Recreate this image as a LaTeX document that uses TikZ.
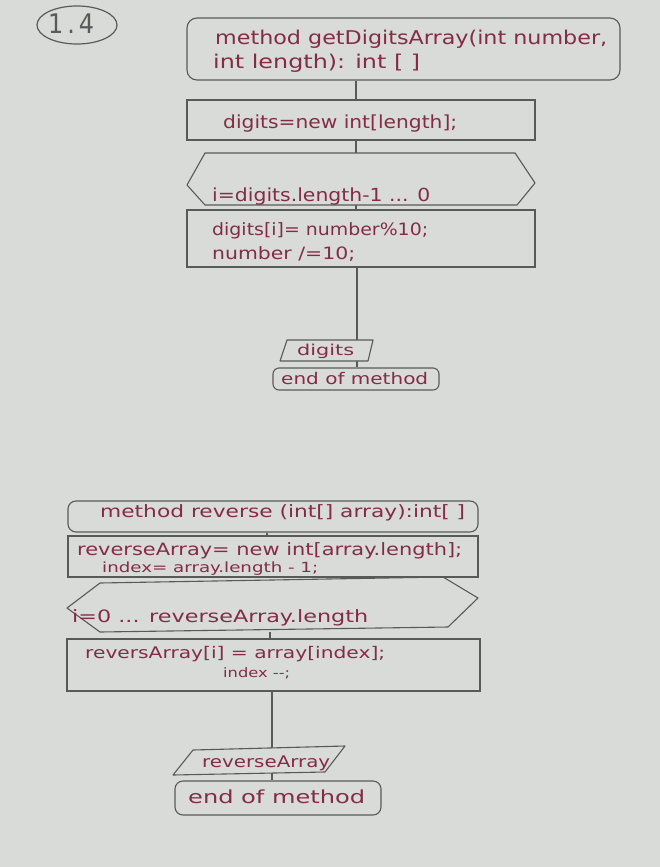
\documentclass[tikz,border=0pt]{standalone}
\usepackage{fontspec}
\setmainfont{DejaVu Sans}
\usepackage{graphicx}
\usetikzlibrary{shapes.geometric}
\definecolor{bg}{RGB}{216,219,215}
\definecolor{ln}{RGB}{88,90,90}
\definecolor{tx}{RGB}{132,44,70}
\definecolor{pen}{RGB}{88,90,92}
% width, font size, text: scale horizontally only
\newcommand\fitw[3]{\resizebox{#1pt}{\height}{\fontsize{#2}{#2}\selectfont #3}}
\tikzset{
  box/.style={draw=ln, line width=1.1pt, rectangle, inner sep=0pt},
  rbox/.style={box, rounded corners=10pt},
  frame/.style={rectangle, inner sep=0pt},
  shp/.style={draw=ln, line width=1.1pt, line join=round},
  conn/.style={draw=ln, line width=1.1pt},
  lbl/.style={text=tx, inner sep=0pt, anchor=base west},
}
\begin{document}
\begin{tikzpicture}[x=1pt, y=-1pt]
\useasboundingbox (0,0) rectangle (660,867);
\fill[bg] (0,0) rectangle (660,867);

% ---- label 1.4
\node[ellipse, draw=pen, line width=1.2pt, minimum width=80pt, minimum height=38pt, inner sep=0pt] (circ) at (77,25) {};
\node[lbl, text=pen] (t17) at (48,34) {\fitw{46}{27}{1\,.\,4}};

% ---- first method
\coordinate (ax1) at (356,0);
\node[rbox, minimum width=433pt, minimum height=62pt] (h1) at (403.5,49) {};
\node[box, minimum width=348pt, minimum height=40pt] (b1) at (361,120) {};
\node[frame, minimum width=348pt, minimum height=52pt] (hex1) at (361,179) {};
\draw[shp] (187,185) -- (205,153) -- (515,153) -- (535,183) -- (517,205) -- (205,205) -- cycle;
\node[box, minimum width=348pt, minimum height=57pt] (body1) at (361,238.5) {};
\node[frame, minimum width=93pt, minimum height=21pt] (para1) at (326.5,350.5) {};
\draw[shp] (287,340) -- (373,340) -- (368,361) -- (280,361) -- cycle;
\node[rbox, rounded corners=6pt, minimum width=166pt, minimum height=22pt] (end1) at (356,379) {};

\draw[conn] (h1.south -| ax1) -- (b1.north -| ax1);
\draw[conn] (b1.south -| ax1) -- (hex1.north -| ax1);
\draw[conn] (hex1.south -| ax1) -- (body1.north -| ax1);
\coordinate (ax2) at (357,0);
\draw[conn] (body1.south -| ax2) -- (para1.north -| ax2);
\draw[conn] (para1.south -| ax2) -- (end1.north -| ax2);

\node[lbl] (t1) at (215,45) {\fitw{392}{19}{method getDigitsArray(int number,}};
\node[lbl] (t2) at (213,68) {\fitw{207}{19}{int length): int [ ]}};
\node[lbl] (t3) at (223,128) {\fitw{234}{18}{digits=new int[length];}};
\node[lbl] (t4) at (212,201) {\fitw{218}{18}{i=digits.length-1 ... 0}};
\node[lbl] (t5) at (212,235) {\fitw{216}{17}{digits[i]= number\%10;}};
\node[lbl] (t6) at (212,259) {\fitw{143}{17}{number /=10;}};
\node[lbl] (t7) at (297,355) {\fitw{57}{15}{digits}};
\node[lbl] (t8) at (281,384) {\fitw{147}{16}{end of method}};

% ---- second method
\node[rbox, rounded corners=8pt, minimum width=410pt, minimum height=31pt] (h2) at (273,516.5) {};
\node[box, minimum width=410pt, minimum height=41pt] (b2) at (273,556.5) {};
\node[frame, minimum width=411pt, minimum height=55pt] (hex2) at (272.5,604.5) {};
\draw[shp] (67,608) -- (100,583) -- (443,577) -- (478,598) -- (448,627) -- (100,632) -- cycle;
\node[box, minimum width=413pt, minimum height=52pt] (body2) at (273.5,665) {};
\node[frame, minimum width=172pt, minimum height=29pt] (para2) at (259,760.5) {};
\draw[shp] (193,750) -- (345,746) -- (325,772) -- (173,775) -- cycle;
\node[rbox, rounded corners=8pt, minimum width=206pt, minimum height=34pt] (end2) at (278,798) {};

\coordinate (ax3) at (267,0);
\coordinate (ax4) at (270,0);
\coordinate (ax5) at (272,0);
\draw[conn] (h2.south -| ax3) -- (b2.north -| ax3);
\draw[conn] (hex2.south -| ax4) -- (body2.north -| ax4);
\draw[conn] (body2.south -| ax5) -- (272,748);
\draw[conn] (272,773) -- (end2.north -| ax5);

\node[lbl] (t9) at (100,517) {\fitw{365}{17}{method reverse (int[] array):int[ ]}};
\node[lbl] (t10) at (77,555) {\fitw{385}{17}{reverseArray= new int[array.length];}};
\node[lbl] (t11) at (102,572) {\fitw{216}{14}{index= array.length - 1;}};
\node[lbl] (t12) at (72,622) {\fitw{296}{17}{i=0 ... reverseArray.length}};
\node[lbl] (t13) at (85,658) {\fitw{300}{16}{reversArray[i] = array[index];}};
\node[lbl] (t14) at (223,677) {\fitw{67}{13}{index -{}-;}};
\node[lbl] (t15) at (202,767) {\fitw{128}{16}{reverseArray}};
\node[lbl] (t16) at (188,803) {\fitw{177}{18}{end of method}};
\end{tikzpicture}
\end{document}
